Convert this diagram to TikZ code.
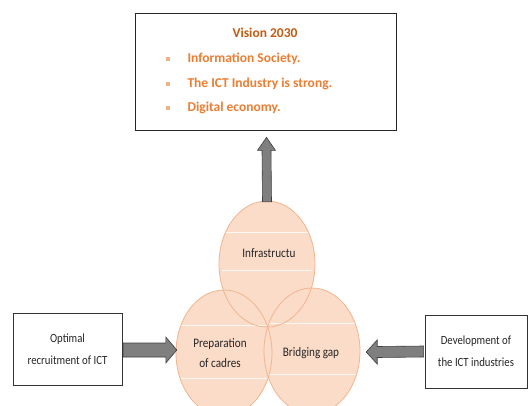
\documentclass[tikz,border=0pt]{standalone}
\usepackage{fontspec}
\setmainfont{Carlito}
\newfontfamily\condfont[FakeStretch=0.86]{Carlito}
\usetikzlibrary{calc,shapes.geometric}
\definecolor{visbrown}{HTML}{C55A11}
\definecolor{visorange}{HTML}{ED7D31}
\definecolor{bulletc}{HTML}{F4B183}
\definecolor{peach}{HTML}{FBDCC9}
\definecolor{peachline}{HTML}{F2B48E}
\definecolor{arrowfill}{HTML}{7F7F7F}
\definecolor{arrowline}{HTML}{3F3F3F}
\definecolor{txt}{HTML}{262626}
\tikzset{
  sidebox/.style={draw=black!80, line width=0.7pt, fill=white, inner sep=0pt},
  bubble/.style={ellipse, minimum width=96pt, minimum height=126pt, inner sep=0pt},
  bubbletext/.style={font=\condfont\fontsize{13}{20}\selectfont, text=txt, align=center},
  boxtext/.style={font=\condfont\fontsize{12.5}{22}\selectfont, text=txt, align=center},
  vitem/.style={font=\bfseries\fontsize{13.5}{15}\selectfont, text=visorange, anchor=west},
  bulletsq/.style={fill=bulletc, minimum size=4.5pt, inner sep=0pt},
  fatarrow/.style={fill=arrowfill, draw=arrowline, line width=0.6pt, line join=miter},
  rowline/.style={draw=white, line width=0.8pt, opacity=0.8}
}
\begin{document}
\begin{tikzpicture}[x=1pt,y=-1pt]
\useasboundingbox (0,0) rectangle (531,405);
\clip (0,0) rectangle (531,405);
\fill[white] (0,0) rectangle (531,405);

% vision box
\node[draw=black!85, line width=0.8pt, minimum width=261pt, minimum height=117pt, inner sep=0pt] (vis) at (265.5,71.5) {};
\node[font=\bfseries\fontsize{13.5}{15}\selectfont, text=visbrown] (vtitle) at (265,33) {Vision 2030};
\node[bulletsq] (b1) at (168,59) {};
\node[bulletsq] (b2) at (168,84) {};
\node[bulletsq] (b3) at (168,108) {};
\node[vitem] (v1) at (184,59) {Information Society.};
\node[vitem] (v2) at (184,84) {The ICT Industry is strong.};
\node[vitem] (v3) at (184,108) {Digital economy.};

% bubbles
\node[bubble, fill=peach] (T) at (267,264) {};
\node[bubble, fill=peach] (P) at (224,353) {};
\node[bubble, fill=peach] (B) at (312,351) {};
\draw[rowline] (222,232) -- (312,232);
\draw[rowline] (222,270) -- (312,270);
\draw[rowline] (181,325) -- (268,325);
\draw[rowline] (181,378) -- (268,378);
\draw[rowline] (268,323) -- (356,323);
\draw[rowline] (268,374) -- (356,374);
\node[bubble, draw=peachline, line width=0.8pt] at (T) {};
\node[bubble, draw=peachline, line width=0.8pt] at (P) {};
\node[bubble, draw=peachline, line width=0.8pt] at (B) {};
\node[bubbletext] (tT) at (269,253) {Infrastructu};
\node[bubbletext] (tP) at (220,353) {Preparation\\of cadres};
\node[bubbletext] (tB) at (311,353) {Bridging gap};

% side boxes
\node[sidebox, minimum width=109pt, minimum height=72pt] (L) at (67.5,349) {};
\node[boxtext] at (L) {Optimal\\recruitment of ICT};
\node[sidebox, minimum width=102pt, minimum height=73pt] (R) at (476,351.5) {};
\node[boxtext] at (R) {Development of\\the ICT industries};

% arrows
\coordinate (ls) at ($(L.east)+(1,1)$);
\coordinate (lt) at ($(P.west)+(1,-3)$);
\draw[fatarrow] ($(ls)+(0,-7)$) -- ($(lt)+(-11,-7)$) -- ($(lt)+(-11,-13)$) -- (lt)
  -- ($(lt)+(-11,13)$) -- ($(lt)+(-11,7)$) -- ($(ls)+(0,7)$) -- cycle;

\coordinate (rs) at ($(R.west)+(-1,0)$);
\coordinate (rt) at ($(B.east)+(6,1)$);
\draw[fatarrow] ($(rs)+(0,-5.5)$) -- ($(rt)+(11,-5.5)$) -- ($(rt)+(11,-12)$) -- (rt)
  -- ($(rt)+(11,12)$) -- ($(rt)+(11,5.5)$) -- ($(rs)+(0,5.5)$) -- cycle;

\coordinate (us) at ($(T.north)+(0,1)$);
\coordinate (ut) at ($(vis.south)+(1,7)$);
\draw[fatarrow] ($(us)+(-4.5,0)$) -- ($(ut)+(-4.5,13)$) -- ($(ut)+(-9,13)$) -- (ut)
  -- ($(ut)+(9,13)$) -- ($(ut)+(4.5,13)$) -- ($(us)+(4.5,0)$) -- cycle;
\end{tikzpicture}
\end{document}
